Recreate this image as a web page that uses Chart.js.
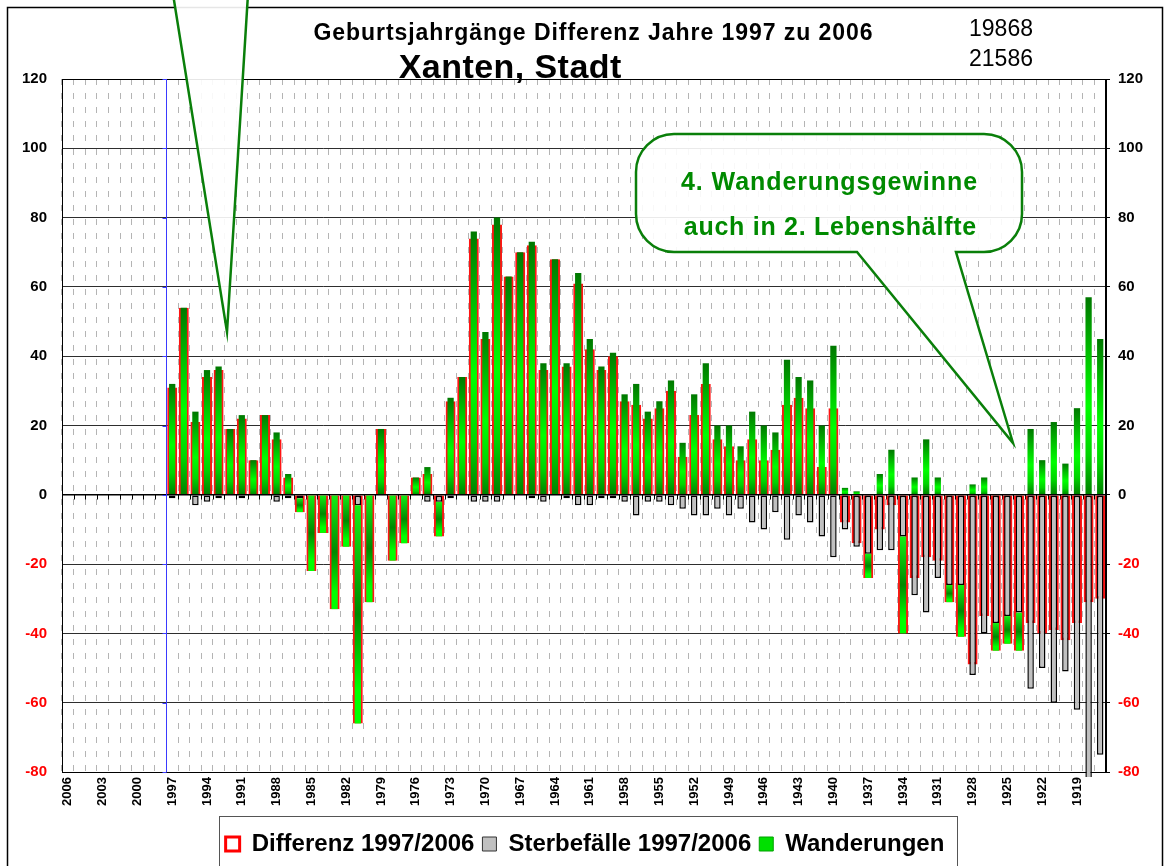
<!DOCTYPE html>
<html lang="de">
<head>
<meta charset="utf-8">
<title>Xanten, Stadt – Geburtsjahrgänge</title>
<script src="https://cdn.jsdelivr.net/npm/chart.js@4.4.1/dist/chart.umd.min.js"></script>
<style>
  html, body { margin: 0; padding: 0; background: #fff; }
  canvas { display: block; }
</style>
</head>
<body>
<canvas id="geburtsChart" width="1170" height="866"></canvas>
<script>
// Geburtsjahrgänge 2006 ... 1917
const jahre = [
  '2006', '2005', '2004', '2003', '2002', '2001', '2000', '1999', '1998', '1997',
  '1996', '1995', '1994', '1993', '1992', '1991', '1990', '1989', '1988', '1987',
  '1986', '1985', '1984', '1983', '1982', '1981', '1980', '1979', '1978', '1977',
  '1976', '1975', '1974', '1973', '1972', '1971', '1970', '1969', '1968', '1967',
  '1966', '1965', '1964', '1963', '1962', '1961', '1960', '1959', '1958', '1957',
  '1956', '1955', '1954', '1953', '1952', '1951', '1950', '1949', '1948', '1947',
  '1946', '1945', '1944', '1943', '1942', '1941', '1940', '1939', '1938', '1937',
  '1936', '1935', '1934', '1933', '1932', '1931', '1930', '1929', '1928', '1927',
  '1926', '1925', '1924', '1923', '1922', '1921', '1920', '1919', '1918', '1917'
];

const differenz = [
  null, null, null, null, null, null, null, null, null,
  31, 54, 21, 34, 36, 19, 22, 10, 23, 16,
  5, -5, -22, -11, -33, -15, -66, -31, 19, -19,
  -14, 5, 6, -12, 27, 34, 74, 45, 78, 63,
  70, 72, 36, 68, 37, 61, 42, 36, 40, 27,
  26, 22, 25, 30, 11, 23, 32, 16, 14, 10,
  16, 10, 13, 26, 28, 25, 8, 25, -8, -14,
  -24, -10, -3, -40, -24, -18, -19, -31, -41, -49,
  -35, -45, -43, -45, -37, -40, -39, -42, -37, -31,
  -30
];

const sterbefaelle = [
  null, null, null, null, null, null, null, null, null,
  -1, 0, -3, -2, -1, 0, -1, 0, 0, -2,
  -1, -1, 0, 0, 0, 0, -3, 0, 0, 0,
  0, 0, -2, -2, -1, 0, -2, -2, -2, 0,
  0, -1, -2, 0, -1, -3, -3, -1, -1, -2,
  -6, -2, -2, -3, -4, -6, -6, -4, -6, -4,
  -8, -10, -5, -13, -6, -8, -12, -18, -10, -15,
  -17, -16, -16, -12, -29, -34, -24, -26, -26, -52,
  -40, -37, -35, -34, -56, -50, -60, -51, -62, -88,
  -75
];

const wanderungen = [
  null, null, null, null, null, null, null, null, null,
  32, 54, 24, 36, 37, 19, 23, 10, 23, 18,
  6, -4, -22, -11, -33, -15, -63, -31, 19, -19,
  -14, 5, 8, -10, 28, 34, 76, 47, 80, 63,
  70, 73, 38, 68, 38, 64, 45, 37, 41, 29,
  32, 24, 27, 33, 15, 29, 38, 20, 20, 14,
  24, 20, 18, 39, 34, 33, 20, 43, 2, 1,
  -7, 6, 13, -28, 5, 16, 5, -5, -15, 3,
  5, -8, -8, -11, 19, 10, 21, 9, 25, 57,
  45
];

const yTicks = [-80, -60, -40, -20, 0, 20, 40, 60, 80, 100, 120];

const schrift = '"Liberation Sans", Arial, Helvetica, sans-serif';
const dunkelgruen = '#007800';
const hellgruen = '#00ff00';
const beschriftungGruen = '#008a00';

Chart.defaults.font.family = schrift;

// Verlauf je Balken: positive Balken dunkel an den Enden, negative hell an den Enden
function wanderFarbe(c) {
  const chart = c.chart;
  const y = chart.scales.y;
  const w = wanderungen[c.dataIndex];
  if (w == null || !y) return '#00dd00';
  const s = sterbefaelle[c.dataIndex] || 0;
  const basis = (w < 0 && s < 0) ? s : 0;
  const a = y.getPixelForValue(basis);
  const b = y.getPixelForValue(basis + w);
  if (!isFinite(a) || !isFinite(b) || a === b) return '#00dd00';
  const g = chart.ctx.createLinearGradient(0, Math.min(a, b), 0, Math.max(a, b));
  if (w >= 0) {
    g.addColorStop(0, dunkelgruen);
    g.addColorStop(0.3, '#00c400');
    g.addColorStop(0.55, hellgruen);
    g.addColorStop(0.8, '#00d400');
    g.addColorStop(1, '#008000');
  } else {
    g.addColorStop(0, '#14f014');
    g.addColorStop(0.5, '#008800');
    g.addColorStop(0.85, hellgruen);
    g.addColorStop(1, hellgruen);
  }
  return g;
}

const legendeStil = [
  { fillStyle: '#ffffff', strokeStyle: '#ff0000', lineWidth: 3 },
  { fillStyle: '#c0c0c0', strokeStyle: '#333333', lineWidth: 1 },
  { fillStyle: '#00e000', strokeStyle: '#00a000', lineWidth: 1 }
];

// Text mit Sperrung auf eine vorgegebene Breite
function gesperrt(ctx, text, cx, y, breite) {
  ctx.letterSpacing = '0px';
  const w = ctx.measureText(text).width;
  const zusatz = Math.max(0, (breite - w) / text.length);
  ctx.letterSpacing = zusatz.toFixed(2) + 'px';
  const w2 = ctx.measureText(text).width;
  const echt = (w2 > w + 0.5) ? w2 - zusatz : w;
  ctx.textAlign = 'left';
  ctx.fillText(text, cx - echt / 2, y);
  ctx.letterSpacing = '0px';
}

function sprechblase(ctx, x, y, w, h, r, p1, spitze, p2) {
  ctx.beginPath();
  ctx.moveTo(x + r, y);
  ctx.lineTo(x + w - r, y);
  ctx.arcTo(x + w, y, x + w, y + r, r);
  ctx.lineTo(x + w, y + h - r);
  ctx.arcTo(x + w, y + h, x + w - r, y + h, r);
  ctx.lineTo(p2, y + h);
  ctx.lineTo(spitze[0], spitze[1]);
  ctx.lineTo(p1, y + h);
  ctx.lineTo(x + r, y + h);
  ctx.arcTo(x, y + h, x, y + h - r, r);
  ctx.lineTo(x, y + r);
  ctx.arcTo(x, y, x + r, y, r);
  ctx.closePath();
}

const schmuck = {
  id: 'schmuck',
  beforeDraw(chart) {
    const ctx = chart.ctx;
    ctx.save();
    ctx.strokeStyle = '#000';
    ctx.lineWidth = 1.5;
    ctx.strokeRect(7.5, 7.5, 1155, 900);
    ctx.restore();
  },
  beforeDatasetsDraw(chart) {
    const { ctx, chartArea: a, scales: { x, y } } = chart;
    const step = x.getPixelForValue(1) - x.getPixelForValue(0);
    const y0 = Math.round(y.getPixelForValue(0)) + 0.5;
    ctx.save();
    ctx.strokeStyle = '#000';
    ctx.lineWidth = 1;
    ctx.strokeRect(Math.round(a.left) + 0.5, Math.round(a.top) + 0.5,
      Math.round(a.right - a.left) - 1, Math.round(a.bottom - a.top));
    // Teilstriche an der Nulllinie
    ctx.beginPath();
    for (let i = 0; i <= jahre.length; i++) {
      const px = Math.round(x.getPixelForValue(0) - step / 2 + i * step) + 0.5;
      ctx.moveTo(px, y0 - 1);
      ctx.lineTo(px, y0 + 4);
    }
    ctx.stroke();
    // senkrechte Achse beim Jahrgang 1997
    const x97 = Math.round(x.getPixelForValue(jahre.indexOf('1997')) - step / 2) + 0.5;
    ctx.strokeStyle = '#3a3aff';
    ctx.beginPath();
    ctx.moveTo(x97, a.top);
    ctx.lineTo(x97, a.bottom);
    yTicks.forEach(v => {
      const py = Math.round(y.getPixelForValue(v)) + 0.5;
      ctx.moveTo(x97 - 4, py);
      ctx.lineTo(x97, py);
    });
    ctx.stroke();
    ctx.restore();
  },
  afterDraw(chart) {
    const ctx = chart.ctx;
    ctx.save();

    // Überschriften
    ctx.fillStyle = '#000';
    ctx.textBaseline = 'alphabetic';
    ctx.font = 'bold 23px ' + schrift;
    gesperrt(ctx, 'Geburtsjahrgänge Differenz Jahre 1997 zu 2006', 593, 40, 560);
    ctx.font = 'bold 34px ' + schrift;
    gesperrt(ctx, 'Xanten, Stadt', 510, 78, 223);
    ctx.font = '23px ' + schrift;
    gesperrt(ctx, '19868', 1001, 36, 63);
    gesperrt(ctx, '21586', 1001, 66, 63);

    // Sprechblase oben links (Körper oberhalb des Bildes)
    ctx.fillStyle = 'rgba(255,255,255,0.9)';
    ctx.strokeStyle = '#0a7f0a';
    ctx.lineWidth = 2.5;
    ctx.lineJoin = 'miter';
    ctx.beginPath();
    ctx.moveTo(173, -6);
    ctx.lineTo(227, 332);
    ctx.lineTo(248, -6);
    ctx.closePath();
    ctx.fill();
    ctx.beginPath();
    ctx.moveTo(173, -6);
    ctx.lineTo(227, 332);
    ctx.lineTo(248, -6);
    ctx.stroke();

    // Sprechblase rechts
    sprechblase(ctx, 636, 134, 386, 118, 38, 857, [1013, 443], 956);
    ctx.fill();
    ctx.stroke();
    ctx.fillStyle = beschriftungGruen;
    ctx.font = 'bold 25px ' + schrift;
    gesperrt(ctx, '4. Wanderungsgewinne', 829, 190, 297);
    gesperrt(ctx, 'auch in 2. Lebenshälfte', 830, 235, 293);

    // Rahmen um die Legende
    const lg = chart.legend;
    if (lg && lg.legendHitBoxes.length) {
      const boxes = lg.legendHitBoxes;
      const links = boxes[0].left - 7;
      const last = boxes[boxes.length - 1];
      const rechts = last.left + last.width + 12;
      ctx.strokeStyle = '#555';
      ctx.lineWidth = 1;
      ctx.strokeRect(Math.round(links) + 0.5, Math.round(lg.top) - 7.5, Math.round(rechts - links), 80);
    }
    ctx.restore();
  }
};

const chart = new Chart(document.getElementById('geburtsChart'), {
  type: 'bar',
  data: {
    labels: jahre,
    datasets: [
      {
        label: 'Differenz 1997/2006',
        data: differenz,
        stack: 'differenz',
        order: 2,
        grouped: false,
        backgroundColor: 'rgba(255,255,255,0)',
        borderColor: '#ff1414',
        borderWidth: 2.5,
        borderSkipped: false,
        barPercentage: 0.86,
        categoryPercentage: 1
      },
      {
        label: 'Sterbefälle 1997/2006',
        data: sterbefaelle,
        stack: 'saldo',
        order: 0,
        grouped: false,
        backgroundColor: '#c0c0c0',
        borderColor: '#000',
        borderWidth: 1.5,
        borderSkipped: false,
        barPercentage: 0.56,
        categoryPercentage: 1,
        clip: { left: 0, top: 0, right: 0, bottom: 5 }
      },
      {
        label: 'Wanderungen',
        data: wanderungen,
        stack: 'saldo',
        order: 1,
        grouped: false,
        backgroundColor: wanderFarbe,
        borderWidth: 0,
        barPercentage: 0.54,
        categoryPercentage: 1
      }
    ]
  },
  options: {
    responsive: false,
    animation: false,
    events: [],
    layout: { padding: { top: 79, left: 0, right: 0, bottom: 0 } },
    scales: {
      x: {
        type: 'category',
        stacked: true,
        offset: true,
        grid: { color: '#b4b4b4', lineWidth: 1, drawTicks: false },
        border: { display: true, color: '#000', width: 1, dash: [6, 8] },
        ticks: {
          autoSkip: false,
          minRotation: 90,
          maxRotation: 90,
          padding: 5,
          color: '#000',
          font: { size: 13, weight: 'bold' },
          callback: function (value, index) {
            return index % 3 === 0 ? this.getLabelForValue(value) : '';
          }
        },
        afterFit: s => { s.height = 52; }
      },
      y: {
        position: 'left',
        stacked: true,
        min: -80,
        max: 120,
        grid: {
          color: c => c.tick.value === 0 ? '#000' : '#2e2e2e',
          lineWidth: c => c.tick.value === 0 ? 1.5 : 1,
          drawTicks: false
        },
        border: { display: true, color: '#000', width: 1 },
        ticks: {
          stepSize: 20,
          padding: 15,
          color: c => c.tick.value < 0 ? '#ff0000' : '#000',
          font: { size: 15, weight: 'bold' }
        },
        afterFit: s => { s.width = 62; }
      },
      y2: {
        position: 'right',
        min: -80,
        max: 120,
        grid: { drawOnChartArea: false, drawTicks: true, tickLength: 4, color: '#000' },
        border: { display: true, color: '#000', width: 1 },
        ticks: {
          stepSize: 20,
          padding: 8,
          color: c => c.tick.value < 0 ? '#ff0000' : '#000',
          font: { size: 15, weight: 'bold' }
        },
        afterFit: s => { s.width = 64; }
      }
    },
    plugins: {
      title: { display: false },
      tooltip: { enabled: false },
      legend: {
        position: 'bottom',
        labels: {
          color: '#000',
          font: { size: 24, weight: 'bold' },
          boxWidth: 14,
          boxHeight: 14,
          padding: 8,
          generateLabels: ch => ch.data.datasets.map((ds, i) => ({
            text: ds.label,
            datasetIndex: i,
            hidden: false,
            fillStyle: legendeStil[i].fillStyle,
            strokeStyle: legendeStil[i].strokeStyle,
            lineWidth: legendeStil[i].lineWidth
          }))
        }
      }
    }
  },
  plugins: [schmuck]
});
</script>
</body>
</html>
